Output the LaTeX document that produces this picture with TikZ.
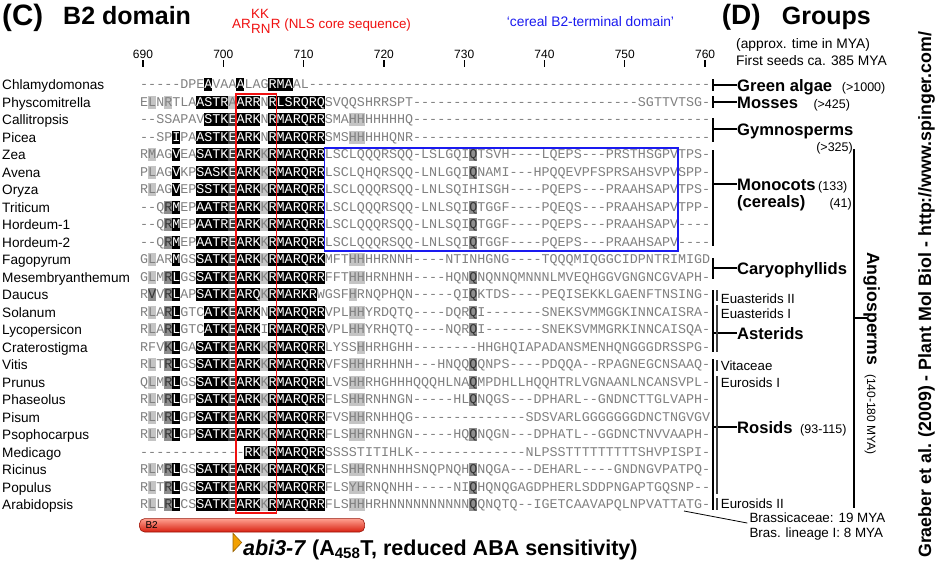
\documentclass[tikz,border=0pt]{standalone}
\usepackage{fontspec}
\setmainfont{Liberation Sans}
\setmonofont{Liberation Mono}

\definecolor{seqgrey}{HTML}{808080}
\definecolor{resdark}{HTML}{3C3C3C}
\definecolor{resmid}{HTML}{8E8E8E}
\definecolor{reslight}{HTML}{C4C4C4}
\definecolor{nlsred}{HTML}{F01010}
\definecolor{cerealblue}{HTML}{1A1AF0}
\definecolor{barhi}{HTML}{FFA090}
\definecolor{barlo}{HTML}{D82010}
\definecolor{markorange}{HTML}{F2A000}
\definecolor{markedge}{HTML}{9A6400}

\newcommand{\fs}[1]{\fontsize{#1}{#1}\selectfont}
\newcommand{\seqfont}{\ttfamily\fs{13.38}}
\newcommand{\gap}[1]{\foreach\gi in {1,...,#1}{-}}
\newcommand{\wt}[1]{\textcolor{white}{#1}}
\newcommand{\dk}[1]{\textcolor{black!80}{#1}}

% one alignment row: number, taxon, residues
\newcommand{\seqrow}[3]{%
  \pgfmathsetmacro\ry{84.7+(#1-1)*17.5}
  \node[taxon] (tax#1) at (2,\ry+4.8) {#2};
  \node[seq] (seq#1) at (140,\ry+3.8) {#3};}
% shading behind residues: style/column/count
\newcommand{\resmarks}[2]{%
  \pgfmathsetmacro\ry{84.7+(#1-1)*17.5}
  \foreach \st/\c/\n in {#2}
    \fill[\st] ({140+(\c-1)*8.03},\ry-6.5) rectangle ++({\n*8.03},13);}

\begin{document}
\begin{tikzpicture}[x=1pt,y=-1pt,
  seq/.style={anchor=base west,inner sep=0pt,font=\seqfont,text=seqgrey},
  hb/.style={fill=black},
  hd/.style={fill=resdark},
  hg/.style={fill=resmid},
  hl/.style={fill=reslight},
  taxon/.style={anchor=base west,inner sep=0pt,font=\fs{13.6}},
  ruler/.style={anchor=base,inner sep=0pt,font=\fs{12}},
  title/.style={anchor=base west,inner sep=0pt,font=\bfseries\fs{25}},
  group/.style={anchor=base west,inner sep=0pt,font=\bfseries\fs{16.6},text height=12pt,text depth=0pt},
  age/.style={anchor=base west,inner sep=0pt,font=\fs{12.5}},
  clade/.style={anchor=base west,inner sep=0pt,font=\fs{13.3}},
  note/.style={anchor=base west,inner sep=0pt,font=\fs{13.8}},
  nls/.style={anchor=base west,inner sep=0pt,font=\fs{13.4},text=nlsred},
  brk/.style={line width=1.7pt},
  sub/.style={line width=1.1pt,draw=black!75},
]
\useasboundingbox (0,0) rectangle (935,565);
\fill[white] (0,0) rectangle (935,565);

% headings
\node[title,font=\bfseries\fs{29.5}] (panelC) at (2,25) {(C)};
\node[title] (b2title) at (63,24) {B2 domain};
\node[nls] (nlsA) at (232,28.3) {AR};
\node[nls] (nlsK) at ([yshift=10pt]nlsA.base east) {KK};
\node[nls] (nlsN) at ([yshift=-5pt]nlsA.base east) {RN};
\node[nls] (nlsB) at (nlsN.base east |- nlsA.base) {R (NLS core sequence)};
\node[note,text=cerealblue] (cereal) at (506.7,26.7) {‘cereal B2-terminal domain’};
\node[title,font=\bfseries\fs{28}] (panelD) at (721.7,24) {(D)};
\node[title] (groups) at (781.7,24) {Groups};
\node[note] (approx) at (736,48.3) {(approx. time in MYA)};
\node[note] (seeds) at (736,65) {First seeds ca. 385 MYA};

% ruler
\foreach \p in {690,700,...,760} {
  \node[ruler] (n\p) at ({143+(\p-690)*8.03},58.3) {\p};
  \draw[line width=1.3pt] (n\p.south) ++(0,1.7) -- ++(0,6.7);
}

% shading
\resmarks{1}{hb/9/1, hb/13/1, hb/17/3}
\resmarks{2}{hl/2/1, hl/4/1, hb/8/4, hl/12/1, hb/13/3, hb/17/7}
\resmarks{3}{hb/9/3, hd/12/1, hb/13/3, hb/17/7, hl/27/2}
\resmarks{4}{hb/5/1, hb/8/4, hd/12/1, hb/13/3, hb/17/7, hl/27/2}
\resmarks{5}{hl/2/1, hb/5/1, hb/8/4, hd/12/1, hb/13/3, hl/16/1, hb/17/7, hg/42/1}
\resmarks{6}{hl/2/1, hb/5/1, hb/8/4, hd/12/1, hb/13/3, hl/16/1, hb/17/7, hg/42/1}
\resmarks{7}{hl/2/1, hb/5/1, hb/8/4, hd/12/1, hb/13/3, hl/16/1, hb/17/7}
\resmarks{8}{hg/4/1, hb/5/1, hb/8/4, hd/12/1, hb/13/3, hl/16/1, hb/17/7, hg/42/1}
\resmarks{9}{hg/4/1, hb/5/1, hb/8/4, hd/12/1, hb/13/3, hl/16/1, hb/17/7, hg/42/1}
\resmarks{10}{hg/4/1, hb/5/1, hb/8/4, hd/12/1, hb/13/3, hl/16/1, hb/17/7, hg/42/1}
\resmarks{11}{hl/2/1, hb/5/1, hb/8/4, hd/12/1, hb/13/3, hl/16/1, hb/17/7, hl/27/2}
\resmarks{12}{hl/2/1, hg/4/1, hb/5/1, hb/8/4, hd/12/1, hb/13/3, hl/16/1, hb/17/7, hl/27/2, hg/42/1}
\resmarks{13}{hg/2/1, hg/4/1, hb/5/1, hb/8/4, hd/12/1, hb/13/3, hl/16/1, hb/17/6, hl/27/1, hg/42/1}
\resmarks{14}{hl/2/1, hg/4/1, hb/5/1, hb/9/3, hd/12/1, hb/13/3, hb/17/7, hl/27/2, hg/42/1}
\resmarks{15}{hl/2/1, hg/4/1, hb/5/1, hb/9/3, hd/12/1, hb/13/3, hb/17/7, hl/27/2, hg/42/1}
\resmarks{16}{hg/4/1, hb/5/1, hb/8/4, hd/12/1, hb/13/3, hl/16/1, hb/17/7, hl/28/1}
\resmarks{17}{hl/2/1, hg/4/1, hb/5/1, hb/8/4, hd/12/1, hb/13/3, hl/16/1, hb/17/7, hl/27/2, hg/42/1}
\resmarks{18}{hl/2/1, hg/4/1, hb/5/1, hb/8/4, hd/12/1, hb/13/3, hl/16/1, hb/17/7, hl/27/2, hg/42/1}
\resmarks{19}{hl/2/1, hg/4/1, hb/5/1, hb/8/4, hd/12/1, hb/13/3, hl/16/1, hb/17/7, hl/27/2, hg/42/1}
\resmarks{20}{hl/2/1, hg/4/1, hb/5/1, hb/8/4, hd/12/1, hb/13/3, hl/16/1, hb/17/7, hl/27/2}
\resmarks{21}{hl/2/1, hg/4/1, hb/5/1, hb/8/4, hd/12/1, hb/13/3, hl/16/1, hb/17/7, hl/27/2, hg/42/1}
\resmarks{22}{hb/14/2, hl/16/1, hb/17/7}
\resmarks{23}{hl/2/1, hg/4/1, hb/5/1, hb/8/4, hd/12/1, hb/13/3, hl/16/1, hb/17/7, hl/27/2, hg/42/1}
\resmarks{24}{hl/2/1, hg/4/1, hb/5/1, hb/8/4, hd/12/1, hb/13/3, hl/16/1, hb/17/7, hl/27/2, hg/42/1}
\resmarks{25}{hl/2/1, hg/4/1, hb/5/1, hb/8/4, hd/12/1, hb/13/3, hl/16/1, hb/17/7, hl/27/2, hg/42/1}

% alignment
\seqrow{1}{Chlamydomonas}{-----DPE\wt{A}VAA\wt{A}LAG\wt{RMA}AL\gap{50}}
\seqrow{2}{Physcomitrella}{ELNRTLA\wt{ASTR}A\wt{ARR}N\wt{RLSRQRQ}SVQQSHRRSPT\gap{28}SGTTVTSG-}
\seqrow{3}{Callitropsis}{--SSAPAV\wt{STKEARK}N\wt{RMARQRR}SMAHHHHHHHQ\gap{37}}
\seqrow{4}{Picea}{--SP\wt{I}PA\wt{ASTKEARK}N\wt{RMARQRR}SMSHHHHHQNR\gap{37}}
\seqrow{5}{Zea}{RMAG\wt{V}EA\wt{SATKEARK}K\wt{RMARQRR}LSCLQQQRSQQ-LSLGQI\dk{Q}TSVH----LQEPS---PRSTHSGPVTPS-}
\seqrow{6}{Avena}{PLAG\wt{V}KP\wt{SASKEARK}K\wt{RMARQRR}LSCLQHQRSQQ-LNLGQI\dk{Q}NAMI---HPQQEVPFSPRSAHSVPVSPP-}
\seqrow{7}{Oryza}{RLAG\wt{V}EP\wt{SSTKEARK}K\wt{RMARQRR}LSCLQQQRSQQ-LNLSQIHISGH----PQEPS---PRAAHSAPVTPS-}
\seqrow{8}{Triticum}{--Q\dk{R}\wt{M}EP\wt{AATREARK}K\wt{RMARQRR}LSCLQQQRSQQ-LNLSQI\dk{Q}TGGF----PQEQS---PRAAHSAPVTPP-}
\seqrow{9}{Hordeum-1}{--Q\dk{R}\wt{M}EP\wt{AATREARK}K\wt{RMARQRR}LSCLQQQRSQQ-LNLSQI\dk{Q}TGGF----PQEPS---PRAAHSAPV----}
\seqrow{10}{Hordeum-2}{--Q\dk{R}\wt{M}EP\wt{AATREARK}K\wt{RMARQRR}LSCLQQQRSQQ-LNLSQI\dk{Q}TGGF----PQEPS---PRAAHSAPV----}
\seqrow{11}{Fagopyrum}{GLAR\wt{M}GS\wt{SATKEARK}K\wt{RMARQRK}MFTHHHHRNNH----NTINHGNG----TQQQMIQGGCIDPNTRIMIGD}
\seqrow{12}{Mesembryanthemum}{GLM\dk{R}\wt{L}GS\wt{SATKEARK}K\wt{RMARQRR}FFTHHHRNHNH----HQN\dk{Q}NQNNQMNNNLMVEQHGGVGNGNCGVAPH-}
\seqrow{13}{Daucus}{R\dk{V}V\dk{R}\wt{L}AP\wt{SATKEARQ}K\wt{RMARKR}WGSFHRNQPHQN-----QI\dk{Q}KTDS----PEQISEKKLGAENFTNSING-}
\seqrow{14}{Solanum}{RLA\dk{R}\wt{L}GTC\wt{ATKEARK}N\wt{RMARQRR}VPLHHYRDQTQ----DQR\dk{Q}I-------SNEKSVMMGGKINNCAISRA-}
\seqrow{15}{Lycopersicon}{RLA\dk{R}\wt{L}GTC\wt{ATKEARK}I\wt{RMARQRR}VPLHHYRHQTQ----NQR\dk{Q}I-------SNEKSVMMGRKINNCAISQA-}
\seqrow{16}{Craterostigma}{RFV\dk{K}\wt{L}GA\wt{SATKEARK}K\wt{RMARQRR}LYSSHHRHGHH--------HHGHQIAPADANSMENHQNGGGDRSSPG-}
\seqrow{17}{Vitis}{RLT\dk{R}\wt{L}GS\wt{SATKEARK}K\wt{RMARQRR}VFSHHHRHHNH---HNQQ\dk{Q}QNPS----PDQQA--RPAGNEGCNSAAQ-}
\seqrow{18}{Prunus}{QLM\dk{R}\wt{L}GS\wt{SATKEARK}K\wt{RMARQRR}LVSHHRHGHHHQQQHLNA\dk{Q}MPDHLLHQQHTRLVGNAANLNCANSVPL-}
\seqrow{19}{Phaseolus}{RLM\dk{R}\wt{L}GP\wt{SATKEARK}K\wt{RMARQRR}FLSHHRNHNGN-----HL\dk{Q}NQGS---DPHARL--GNDNCTTGLVAPH-}
\seqrow{20}{Pisum}{RLM\dk{R}\wt{L}GP\wt{SATKEARK}K\wt{RMARQRR}FVSHHRNHHQG\gap{14}SDSVARLGGGGGGGDNCTNGVGV}
\seqrow{21}{Psophocarpus}{RLM\dk{R}\wt{L}GP\wt{SATKEARK}K\wt{RMARQRR}FLSHHRNHNGN-----HQ\dk{Q}NQGN---DPHATL--GGDNCTNVVAAPH-}
\seqrow{22}{Medicago}{\gap{13}\wt{RK}K\wt{RMARQRR}SSSSTITIHLK\gap{14}NLPSSTTTTTTTTTSHVPISPI-}
\seqrow{23}{Ricinus}{RLM\dk{R}\wt{L}GS\wt{SATKEARK}K\wt{RMARQKR}FLSHHRNHNHHSNQPNQH\dk{Q}NQGA---DEHARL----GNDNGVPATPQ-}
\seqrow{24}{Populus}{RLT\dk{R}\wt{L}GS\wt{SATKEARK}K\wt{RMARQRR}FLSYHRNQNHH-----NI\dk{Q}HQNQGAGDPHERLSDDPNGAPTGQSNP--}
\seqrow{25}{Arabidopsis}{RLL\dk{R}\wt{L}CS\wt{SATKEARK}K\wt{RMARQRR}FLSHHHRHNNNNNNNNNN\dk{Q}QNQTQ--IGETCAAVAPQLNPVATTATG-}

% NLS core and cereal domain frames
\draw[nlsred,line width=1.8pt] ({140+12*8.03},94) rectangle ({140+17*8.03},513);
\draw[cerealblue,line width=1.5pt] ({140+23*8.03},148) rectangle ({140+67*8.03},251);

% groups
\node[group] (grp1) at (737,91) {Green algae};
\node[age] (age1) at (841.7,91) {(>1000)};
\node[group] (grp2) at (737,108) {Mosses};
\node[age] (age2) at (813.3,108) {(>425)};
\node[group] (grp3) at (737,135) {Gymnosperms};
\node[age,anchor=base east] (age3) at (853,151) {(>325)};
\node[group] (grp4) at (737,190) {Monocots};
\node[age] (age4) at (818,190) {(133)};
\node[group] (grp4b) at (737,207) {(cereals)};
\node[age,anchor=base east] (age4b) at (852,207) {(41)};
\node[group] (grp5) at (737,274) {Caryophyllids};
\node[group] (grp6) at (737,339) {Asterids};
\node[group] (grp7) at (737,433) {Rosids};
\node[age] (age7) at (800,433) {(93-115)};
\node[clade] (cl1) at (720.7,303.5) {Euasterids II};
\node[clade] (cl2) at (720.7,318.3) {Euasterids I};
\node[clade] (cl3) at (720.7,370.5) {Vitaceae};
\node[clade] (cl4) at (720.7,387.3) {Eurosids I};
\node[clade] (cl5) at (720.7,508.5) {Eurosids II};

\draw[brk] (713,79) -- (713,91);
\draw[brk] (713,85) -- (grp1.west);
\draw[brk] (713,96) -- (713,108);
\draw[brk] (713,102) -- (grp2.west);
\draw[brk] (713,118) -- (713,142);
\draw[brk] (713,129) -- (grp3.west);
\draw[brk] (713,150) -- (713,246);
\draw[brk] (713,184) -- (grp4.west);
\draw[brk] (713,258) -- (713,279);
\draw[brk] (713,268) -- (grp5.west);
\draw[brk] (713,290) -- (713,352);
\draw[brk] (713,333) -- (grp6.west);
\draw[brk] (713,359) -- (713,510);
\draw[brk] (713,427) -- (grp7.west);
\draw[sub] (717,290) -- (717,300.5);
\draw[sub] (717,305) -- (717,352);
\draw[sub] (717,360) -- (717,371);
\draw[sub] (717,376) -- (717,494);
\draw[sub] (717,498) -- (717,510);

% angiosperms
\node[rotate=-90,anchor=base west,inner sep=0pt] (angio) at (867,252)
  {\bfseries\fs{17.7}Angiosperms\hspace{9pt}\mdseries\fs{12}(140-180 MYA)};
\draw[brk] (854,149) -- (854,508);
\draw[brk] (854,318) -- (867,318);

% Brassicaceae
\node[note,font=\fs{13.4}] (brass1) at (749.3,522.7) {Brassicaceae: 19 MYA};
\node[note,font=\fs{13.4}] (brass2) at (749.3,537.7) {Bras. lineage I: 8 MYA};
\coordinate (brassfoot) at (684,511);
\draw[line width=0.8pt] (brassfoot) -- ([xshift=-2pt]brass1.south west);

% B2 bar and abi3-7
\node[draw=barlo!70!black,line width=0.6pt,rounded corners=5pt,top color=barhi,bottom color=barlo,
  minimum width=225pt,minimum height=13.4pt,anchor=north west,inner sep=0pt] (b2bar) at (139.3,518.3) {};
\node[anchor=west,inner sep=0pt,font=\fs{10}] (b2lbl) at ([xshift=6pt]b2bar.west) {B2};
\draw[fill=markorange,draw=markedge,line width=0.6pt] (233,533.3) -- (241.7,542.5) -- (233,551.7) -- cycle;
\node[anchor=base west,inner sep=0pt,font=\bfseries\fs{21.5}] (abi) at (243,555)
  {\textit{abi3-7} (A\textsubscript{458}T, reduced ABA sensitivity)};

% source
\node[rotate=90,anchor=base west,inner sep=0pt,font=\bfseries\fs{17.8}] (credit) at (931,558)
  {Graeber et al. (2009) - Plant Mol Biol - http://www.spinger.com/};
\end{tikzpicture}
\end{document}
